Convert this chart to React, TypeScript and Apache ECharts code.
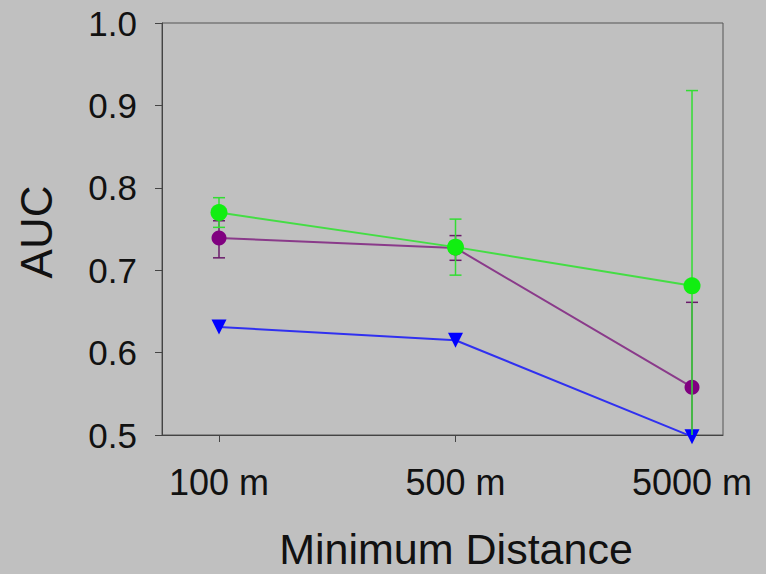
import React, { useEffect, useRef } from "react";
import * as echarts from "echarts";

const categories = ["100 m", "500 m", "5000 m"];
const greenValues = [0.77, 0.728, 0.681];
const greenLow = [0.752, 0.694, 0.44];
const greenHigh = [0.788, 0.762, 0.918];
const purpleValues = [0.739, 0.727, 0.558];
const purpleLow = [0.715, 0.712, 0.455];
const purpleHigh = [0.76, 0.742, 0.661];
const blueValues = [0.631, 0.615, 0.498];

const FONT = "Liberation Sans, Arial, sans-serif";

function errorSeries(low: number[], high: number[], color: string, z: number) {
  return {
    type: "custom",
    clip: true,
    z,
    data: low.map((l, i) => [i, l, high[i]]),
    renderItem: (params: any, api: any) => {
      const x = api.value(0);
      const lo = api.coord([x, api.value(1)]);
      const hi = api.coord([x, api.value(2)]);
      const hw = 6;
      const style = { stroke: color, lineWidth: 1.5 };
      return {
        type: "group",
        children: [
          { type: "line", shape: { x1: lo[0], y1: lo[1], x2: hi[0], y2: hi[1] }, style },
          { type: "line", shape: { x1: lo[0] - hw, y1: lo[1], x2: lo[0] + hw, y2: lo[1] }, style },
          { type: "line", shape: { x1: hi[0] - hw, y1: hi[1], x2: hi[0] + hw, y2: hi[1] }, style },
        ],
      };
    },
  };
}

export default function App() {
  const ref = useRef<HTMLDivElement>(null);
  useEffect(() => {
    const chart = echarts.init(ref.current!, null, { renderer: "svg" });
    const toPairs = (v: number[]) => v.map((y, i) => [i, y]);
    chart.setOption({
      animation: false,
      backgroundColor: "#c0c0c0",
      grid: {
        left: 162,
        top: 23,
        width: 561,
        height: 412,
        show: true,
        borderColor: "#555",
        borderWidth: 1,
        backgroundColor: "transparent",
      },
      xAxis: {
        type: "value",
        min: -0.241,
        max: 2.131,
        splitLine: { show: false },
        axisLine: { show: true, onZero: false, lineStyle: { color: "#444", width: 1 } },
        axisTick: { show: true, customValues: [0, 1, 2], length: 7, lineStyle: { color: "#444" } },
        axisLabel: {
          customValues: [0, 1, 2],
          formatter: (v: number) => categories[Math.round(v)] ?? "",
          color: "#111",
          fontFamily: FONT,
          fontSize: 36,
          margin: 29,
        },
      },
      yAxis: {
        type: "value",
        min: 0.5,
        max: 1.0,
        interval: 0.1,
        splitLine: { show: false },
        axisLine: { show: true, onZero: false, lineStyle: { color: "#444", width: 1 } },
        axisTick: { show: true, length: 7, lineStyle: { color: "#444" } },
        axisLabel: {
          formatter: (v: number) => v.toFixed(1),
          color: "#111",
          fontFamily: FONT,
          fontSize: 35,
          margin: 25,
        },
      },
      graphic: [
        {
          type: "text",
          x: 456,
          y: 549,
          style: {
            text: "Minimum Distance",
            font: `43px ${FONT}`,
            fill: "#111",
            textAlign: "center",
            textVerticalAlign: "middle",
          },
        },
        {
          type: "text",
          x: 36,
          y: 232,
          rotation: Math.PI / 2,
          style: {
            text: "AUC",
            font: `44px ${FONT}`,
            fill: "#111",
            textAlign: "center",
            textVerticalAlign: "middle",
          },
        },
      ],
      series: [
        errorSeries(purpleLow, purpleHigh, "#6a1a6a", 2),
        {
          type: "line",
          z: 3,
          clip: false,
          data: toPairs(blueValues),
          symbol: "triangle",
          symbolRotate: 180,
          symbolSize: 15,
          itemStyle: { color: "#0000ff" },
          lineStyle: { color: "#3030f0", width: 2 },
        },
        {
          type: "line",
          z: 4,
          clip: false,
          data: toPairs(purpleValues),
          symbol: "circle",
          symbolSize: 15,
          itemStyle: { color: "#800080" },
          lineStyle: { color: "#8a3a8a", width: 2 },
        },
        errorSeries(greenLow, greenHigh, "#33dd33", 5),
        {
          type: "line",
          z: 6,
          clip: false,
          data: toPairs(greenValues),
          symbol: "circle",
          symbolSize: 17,
          itemStyle: { color: "#11ee11" },
          lineStyle: { color: "#44dd44", width: 2 },
        },
      ],
    });
    return () => chart.dispose();
  }, []);
  return (
    <div
      ref={ref}
      style={{ position: "fixed", left: 0, top: 0, width: 766, height: 574 }}
    />
  );
}
